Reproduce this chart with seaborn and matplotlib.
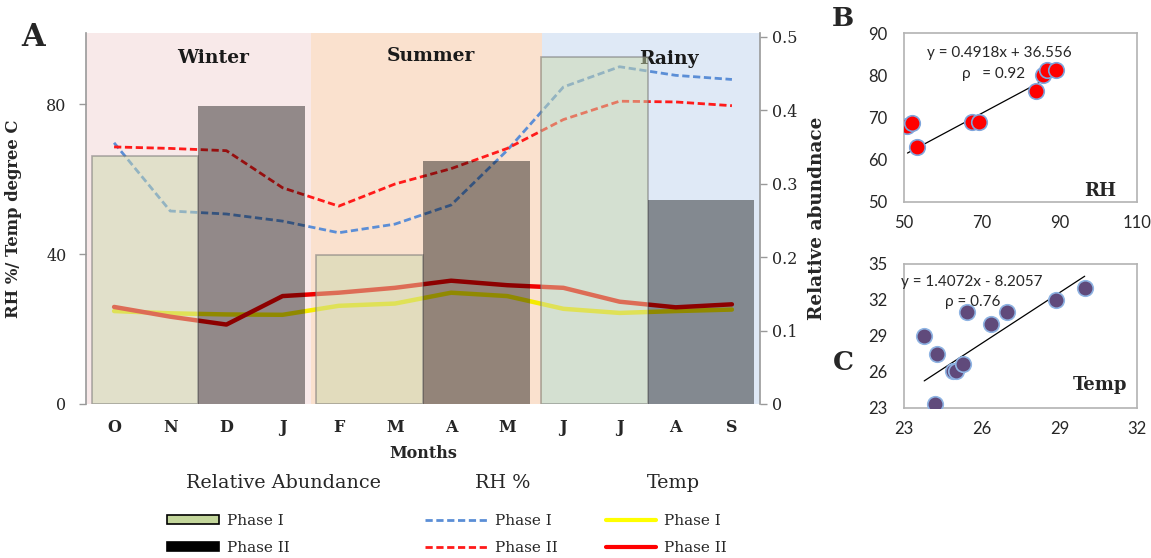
import numpy as np
import pandas as pd
import matplotlib
matplotlib.use("Agg")
import matplotlib.pyplot as plt
import seaborn as sns
from matplotlib.patches import Patch
from matplotlib.lines import Line2D

# ---------------- data ----------------
months = ["O", "N", "D", "J", "F", "M", "A", "M", "J", "J", "A", "S"]
rh_phase1 = [69.7, 51.5, 50.7, 48.8, 45.7, 48.0, 53.1, 67.7, 84.6, 90.0, 87.7, 86.6]
rh_phase2 = [68.6, 68.2, 67.6, 57.7, 52.8, 58.7, 62.8, 68.2, 75.9, 80.8, 80.6, 79.6]
temp_phase1 = [24.8, 24.2, 23.9, 23.8, 26.2, 26.8, 29.7, 28.8, 25.4, 24.3, 24.8, 25.2]
temp_phase2 = [25.9, 23.3, 21.2, 28.8, 29.7, 31.0, 32.9, 31.7, 31.0, 27.3, 25.8, 26.6]

seasons = ["Winter", "Summer", "Rainy"]
phases = ["Phase I", "Phase II"]
abund_phase1 = [0.338, 0.203, 0.473]
abund_phase2 = [0.406, 0.331, 0.278]

left_ticks = [0, 40, 80]
right_ticks = [0, 0.1, 0.2, 0.3, 0.4, 0.5]
right_ticklabels = ["0", "0.1", "0.2", "0.3", "0.4", "0.5"]

rh_x = [50.9, 52.0, 53.4, 67.4, 69.4, 83.9, 85.8, 86.9, 89.1]
rh_y = [67.9, 68.7, 63.0, 68.9, 68.9, 76.2, 80.0, 81.2, 81.2]
rh_slope, rh_icpt, rh_rho = 0.4918, 36.556, 0.92
rh_xticks = [50, 70, 90, 110]
rh_yticks = [50, 60, 70, 80, 90]

temp_x = [23.78, 24.29, 24.2, 24.88, 25.0, 25.29, 25.42, 26.35, 26.96, 28.89, 29.98]
temp_y = [29.03, 27.5, 23.36, 26.06, 26.06, 26.69, 31.0, 30.0, 31.0, 32.03, 33.0]
temp_slope, temp_icpt, temp_rho = 1.4072, -8.2057, 0.76
temp_xticks = [23, 26, 29, 32]
temp_yticks = [23, 26, 29, 32, 35]

# ---------------- style ----------------
sns.set_theme(style="white")
plt.rcParams["font.family"] = ["DejaVu Serif"]
SERIF = ["DejaVu Serif"]
SANS = ["Lato", "DejaVu Sans"]

fig = plt.figure(figsize=(11.51, 5.58), dpi=100)

W, H = 1151, 558
def fbox(l, t, r, b):
    return [l / W, 1 - b / H, (r - l) / W, (b - t) / H]

# ---------------- panel A ----------------
ax = fig.add_axes(fbox(86, 33, 760, 404))
x_idx = np.arange(len(months))

season_bounds = [(-0.5, 3.5), (3.5, 7.62), (7.62, 11.5)]
season_colors = ["#f8e9e9", "#fae1ce", "#dfe9f6"]
for (a, b), c in zip(season_bounds, season_colors):
    ax.axvspan(a, b, color=c, lw=0, zorder=0)

dash = (0, (2.6, 1.3))
sns.lineplot(x=x_idx, y=rh_phase1, ax=ax, color="#5b8ed6", lw=2.0, linestyle=dash, zorder=3)
sns.lineplot(x=x_idx, y=rh_phase2, ax=ax, color="#ff1a1a", lw=2.0, linestyle=dash, zorder=3)
sns.lineplot(x=x_idx, y=temp_phase1, ax=ax, color="#f5ea00", lw=3.2, zorder=3)
sns.lineplot(x=x_idx, y=temp_phase2, ax=ax, color="#f00000", lw=3.2, zorder=3)

ax.set_xlim(-0.5, 11.5)
ax.set_ylim(0, 99)
ax.set_yticks(left_ticks)
ax.set_xticks(x_idx)
ax.set_xticklabels(months, fontsize=11.5, fontweight="bold", family=SERIF)
ax.tick_params(axis="x", length=0, pad=11)
ax.tick_params(axis="y", length=5, width=1, color="#999999", pad=9, labelsize=11.5, left=True)
for s in ["top", "right", "bottom"]:
    ax.spines[s].set_visible(False)
ax.spines["left"].set_color("#9a9a9a")
ax.spines["left"].set_linewidth(1.2)
ax.set_xlabel("Months", fontsize=11.5, fontweight="bold", labelpad=6)
ax.set_ylabel("RH %/ Temp degree C", fontsize=11.8, fontweight="bold")
ax.yaxis.set_label_coords(-0.095, 0.5)

season_label_pos = [(1.77, 92.3), (5.64, 92.8), (9.88, 92.0)]
for name, (sx, sy) in zip(seasons, season_label_pos):
    ax.text(sx, sy, name, ha="center", va="center", fontsize=13.5, fontweight="bold",
            color="#1a1a1a", zorder=2)

# bars on independent overlay axes (right axis)
ax_bar = fig.add_axes(fbox(86, 33, 760, 404))
ax_bar.patch.set_visible(False)
df = pd.DataFrame({
    "season": seasons * 2,
    "phase": [phases[0]] * 3 + [phases[1]] * 3,
    "abund": abund_phase1 + abund_phase2,
})
sns.barplot(data=df, x="season", y="abund", hue="phase", order=seasons, hue_order=phases,
            palette={"Phase I": "#cbd9ad", "Phase II": "#000000"}, width=0.95,
            errorbar=None, legend=False, ax=ax_bar)
for p in ax_bar.containers[0]:
    p.set_facecolor((0.796, 0.851, 0.678, 0.5))
    p.set_edgecolor((0.45, 0.45, 0.45, 0.55))
    p.set_linewidth(1.2)
for p in ax_bar.containers[1]:
    p.set_facecolor((0, 0, 0, 0.41))
    p.set_edgecolor((0, 0, 0, 0))
ax_bar.set_xlim(-0.5, 2.5)
ax_bar.set_ylim(0, 0.505)
ax_bar.set_xticks([])
ax_bar.set_xlabel("")
ax_bar.yaxis.tick_right()
ax_bar.yaxis.set_label_position("right")
ax_bar.set_yticks(right_ticks)
ax_bar.set_yticklabels(right_ticklabels)
ax_bar.tick_params(axis="y", right=True, length=5, width=1, color="#999999", pad=4, labelsize=11.5)
for s in ["top", "left", "bottom"]:
    ax_bar.spines[s].set_visible(False)
ax_bar.spines["right"].set_color("#9a9a9a")
ax_bar.spines["right"].set_linewidth(1.2)
ax_bar.set_ylabel("Relative abundnace", fontsize=13.3, fontweight="bold")
ax_bar.yaxis.set_label_coords(1.071, 0.5)

fig.text(33 / W, 1 - 38 / H, "A", fontsize=22, fontweight="bold", ha="center", va="center")

# ---------------- legend ----------------
hdr_y = 1 - 483 / H
fig.text(283 / W, hdr_y, "Relative Abundance", fontsize=13.8, ha="center", va="center")
fig.text(503 / W, hdr_y, "RH %", fontsize=13.8, ha="center", va="center")
fig.text(673 / W, hdr_y, "Temp", fontsize=13.8, ha="center", va="center")

leg_kw = dict(frameon=False, loc="upper left", borderpad=0, borderaxespad=0,
              labelspacing=0.85, handletextpad=0.5, prop={"family": SERIF, "size": 11})
h1 = [Patch(facecolor="#c3d69b", edgecolor="black", lw=1.2),
      Patch(facecolor="black", edgecolor="black", lw=1.2)]
fig.legend(h1, phases, bbox_to_anchor=(167 / W, 1 - 514 / H), handlelength=3.4,
           handleheight=0.5, **leg_kw)
h2 = [Line2D([], [], color="#5b8ed6", lw=2.0, linestyle=dash),
      Line2D([], [], color="#ff1a1a", lw=2.0, linestyle=dash)]
fig.legend(h2, phases, bbox_to_anchor=(425 / W, 1 - 514 / H), handlelength=4.1, **leg_kw)
h3 = [Line2D([], [], color="#ffff00", lw=3.0),
      Line2D([], [], color="#ff0000", lw=3.0)]
fig.legend(h3, phases, bbox_to_anchor=(606 / W, 1 - 514 / H), handlelength=3.3, **leg_kw)

# ---------------- panels B & C ----------------
def scatter_panel(box, xs, ys, slope, icpt, rho, xticks, yticks, face, edge, tag, tag_pos,
                  name, name_pos, eq_pos, rho_pos, sign, rho_sep):
    a = fig.add_axes(fbox(*box))
    sns.scatterplot(x=xs, y=ys, ax=a, color=face, edgecolor=edge, s=125, linewidth=1.2, zorder=3)
    lx = np.array([min(xs), max(xs)])
    sns.lineplot(x=lx, y=slope * lx + icpt, ax=a, color="black", lw=0.9, zorder=2)
    a.set_xlim(xticks[0], xticks[-1])
    a.set_ylim(yticks[0], yticks[-1])
    a.set_xticks(xticks)
    a.set_yticks(yticks)
    a.set_xticklabels([str(t) for t in xticks], family=SANS, fontsize=12)
    a.set_yticklabels([str(t) for t in yticks], family=SANS, fontsize=12)
    a.tick_params(length=0, colors="#262626")
    a.tick_params(axis="x", pad=9)
    a.tick_params(axis="y", pad=12)
    for s in a.spines.values():
        s.set_color("#b3b3b3")
        s.set_linewidth(1.2)
    eq = f"y = {slope}x {sign} {abs(icpt)}"
    a.text(*eq_pos, eq, transform=a.transAxes, family=SANS, fontsize=11, ha="center",
           va="center", zorder=4)
    a.text(*rho_pos, f"\u03c1{rho_sep}= {rho}", transform=a.transAxes, family=SANS, fontsize=11,
           ha="center", va="center", zorder=4)
    a.text(*name_pos, name, transform=a.transAxes, family=SERIF, fontsize=13,
           fontweight="bold", ha="center", va="center")
    fig.text(tag_pos[0] / W, 1 - tag_pos[1] / H, tag, fontsize=19, fontweight="bold",
             family=SERIF, ha="center", va="center")
    return a

scatter_panel((904, 33, 1137, 202), rh_x, rh_y, rh_slope, rh_icpt, rh_rho,
              rh_xticks, rh_yticks, "#ff0000", "#7fa6dd", "B", (843, 19),
              "RH", (0.84, 0.065), (0.41, 0.88), (0.385, 0.757), "+", "   ")
scatter_panel((904, 264, 1137, 408), temp_x, temp_y, temp_slope, temp_icpt, temp_rho,
              temp_xticks, temp_yticks, "#604a7b", "#8fb4e3", "C", (843, 362),
              "Temp", (0.84, 0.16), (0.29, 0.875), (0.295, 0.736), "-", " ")

fig.savefig("out.png", dpi=100)
